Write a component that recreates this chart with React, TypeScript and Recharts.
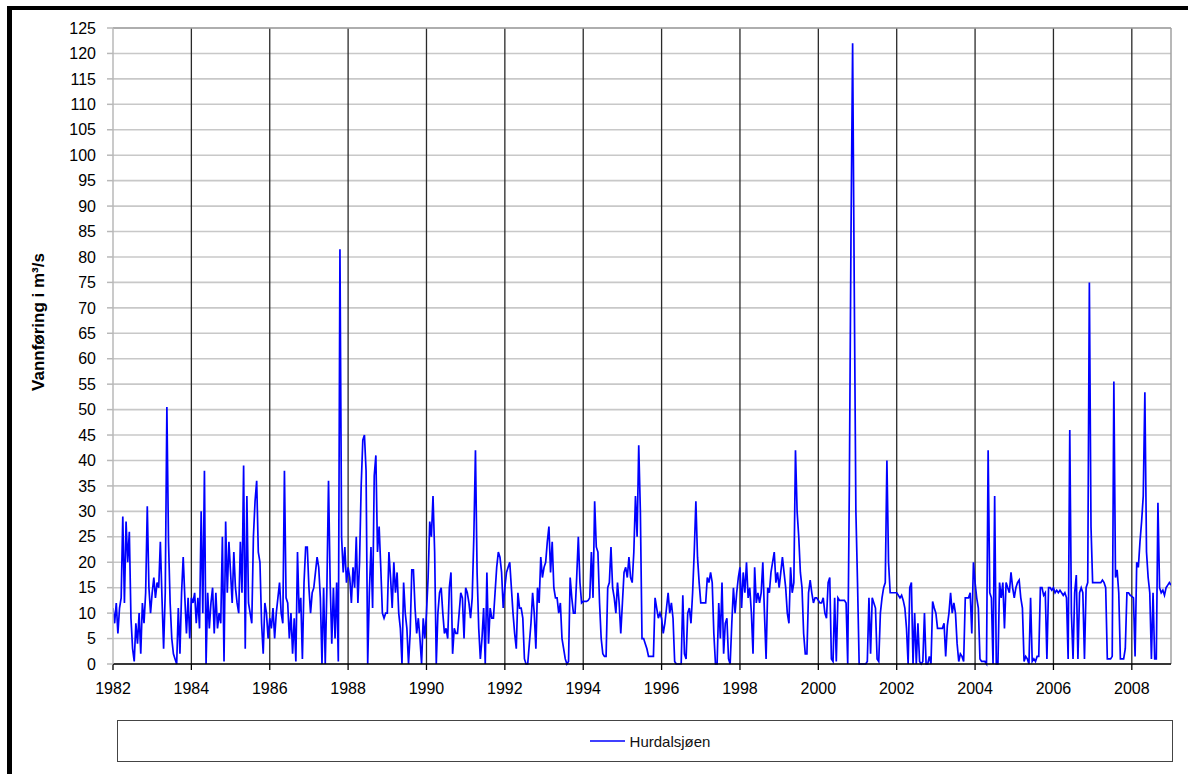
import { CartesianGrid, Legend, Line, LineChart, ReferenceLine, XAxis, YAxis } from "recharts";

// half-monthly flow readings (m³/s), 24 per year
const v1982 = [11, 8, 12, 6, 11, 13, 29, 12, 28, 20, 26, 9, 3, 0.5, 8, 4, 10, 2, 12, 8, 14, 31, 15, 10];
const v1983 = [14, 17, 13, 16, 15, 24, 13, 3, 14, 50.5, 24, 12, 5, 2, 1, 0, 11, 2, 14, 21, 13, 6, 13, 5];
const v1984 = [13, 12, 14, 8, 13, 7, 30, 10, 38, 0, 14, 7, 12, 15, 6, 14, 7, 10, 8, 25, 0.5, 28, 14, 24];
const v1985 = [18, 12, 22, 15, 12, 10, 24, 14, 39, 3, 33, 12, 10, 8, 25, 32, 36, 22, 20, 8, 2, 12, 10, 5];
const v1986 = [9, 7, 11, 5, 10, 13, 16, 10, 8, 38, 13, 12, 5, 10, 2, 9, 0.5, 22, 10, 13, 1, 16, 23, 23];
const v1987 = [15, 10, 14, 15, 18, 21, 19, 13, 0, 15, 0, 15, 36, 16, 4, 15, 5, 16, 0.5, 81.5, 25, 18, 23, 16];
const v1988 = [19, 17, 12, 19, 15, 25, 12, 20, 35, 44, 45, 38, 0, 14, 23, 11, 37, 41, 22, 27, 19, 10, 9, 10];
const v1989 = [10, 22, 17, 11, 20, 14, 18, 10, 7, 0, 16, 10, 7, 0, 6, 18.5, 18.5, 11, 6, 9, 5, 0, 9, 5];
const v1990 = [10, 17, 28, 25, 33, 22, 0, 10, 14, 15, 10, 6, 7, 5, 15, 18, 2, 7, 6, 6, 10, 14, 13, 5];
const v1991 = [15, 14, 12, 9, 13, 25, 42, 18, 7, 1, 5, 11, 0, 18, 4, 11, 9, 9, 14, 19, 22, 21, 18, 11];
const v1992 = [15, 18, 19, 20, 15, 10, 6, 3, 14, 11, 11, 9, 1, 0, 0, 4, 8, 14, 10, 3, 15, 12, 21, 17];
const v1993 = [19, 20, 24, 27, 18, 24, 15, 13, 13, 10, 12, 5, 3, 1, 0, 0.5, 17, 13, 10, 10, 17, 25, 16, 12];
const v1994 = [12.3, 12.3, 12.3, 12.5, 13, 22, 13, 32, 23, 22, 12, 5, 2, 1.5, 1.5, 15, 16, 23, 15, 13, 10, 16, 12, 6];
const v1995 = [12, 18, 19, 17, 21, 17, 16, 22, 33, 25, 43, 30, 5, 5, 4, 3, 1.5, 1.5, 1.5, 1.5, 13, 11, 9, 10];
const v1996 = [9, 6, 8, 11, 14, 10, 12, 9, 0.5, 0, 0, 0, 0, 13.5, 2, 1, 10, 11, 8, 14, 22, 32, 21, 16];
const v1997 = [12, 12, 12, 12, 17, 16, 18, 16, 6, 0, 0, 12, 5, 16, 2, 8, 9, 1, 0, 8, 15, 10, 14, 17];
const v1998 = [19, 11, 18, 14, 20, 13, 15, 10, 2, 19, 12, 14, 12, 14, 20, 10, 1, 15, 14, 18, 20, 22, 16, 18];
const v1999 = [15, 18, 21, 18, 15, 10, 8, 19, 14, 16, 42, 30, 25, 18, 15, 6, 2, 2, 14, 16.5, 14, 12, 13, 13];
const v2000 = [12.5, 12, 12, 13, 10, 9, 16, 17, 1, 0.5, 13, 0.5, 13, 12.5, 12.5, 12.5, 12.5, 12, 0, 35, 84, 122, 74, 30];
const v2001 = [16, 0, 0, 0, 0, 0, 0.5, 13, 2, 13, 12, 11, 1, 0.5, 10, 13, 15, 16, 40, 20, 14, 14, 14, 14];
const v2002 = [14, 13.5, 13, 13.5, 12.5, 11, 7, 0, 15, 16, 0, 10, 0, 8, 0.5, 0, 0.5, 10, 0, 0, 1.5, 0, 12.3, 11];
const v2003 = [10, 7, 7, 7, 7, 8, 1.5, 7.5, 10, 14, 10, 12, 10, 4, 0.5, 2, 1.5, 0.5, 13, 13, 13, 14, 6, 20];
const v2004 = [16, 13, 11, 1, 0.5, 0.5, 0.5, 0, 42, 14, 13, 0, 33, 0, 0, 16, 13, 16, 7, 16, 15, 14, 18, 15];
const v2005 = [13, 15, 16, 16.5, 13, 11, 0.5, 1.5, 1, 0, 13, 0.5, 1, 0.5, 1.5, 1.5, 15, 15, 13.5, 14, 1, 15, 15, 14.5];
const v2006 = [15, 14, 14.5, 14, 14.5, 14, 13.5, 14, 13, 1, 46, 10, 1, 14, 17.5, 1, 14, 15, 14, 1, 15, 16, 75, 27];
const v2007 = [16, 16, 16, 16, 16, 16, 16.5, 16, 15, 1, 1, 1, 1.5, 55.5, 17, 18.5, 14, 1, 1, 1, 3, 14, 14, 13.5];
const v2008 = [13.3, 13, 1.5, 20, 19, 24, 28, 33, 53.4, 22, 17, 14, 1, 14, 1, 1, 31.7, 15, 14, 14.5, 13.5, 15, 15.5, 16];
const v2009 = [15.5];

const years = [
  1982, 1983, 1984, 1985, 1986, 1987, 1988, 1989, 1990, 1991, 1992, 1993, 1994, 1995,
  1996, 1997, 1998, 1999, 2000, 2001, 2002, 2003, 2004, 2005, 2006, 2007, 2008, 2009,
];
const series = [
  v1982, v1983, v1984, v1985, v1986, v1987, v1988, v1989, v1990, v1991, v1992, v1993, v1994, v1995,
  v1996, v1997, v1998, v1999, v2000, v2001, v2002, v2003, v2004, v2005, v2006, v2007, v2008, v2009,
];

const xTicks = [1982, 1984, 1986, 1988, 1990, 1992, 1994, 1996, 1998, 2000, 2002, 2004, 2006, 2008];
const yTicks = [0, 5, 10, 15, 20, 25, 30, 35, 40, 45, 50, 55, 60, 65, 70, 75, 80, 85, 90, 95, 100, 105, 110, 115, 120, 125];

const data = years.flatMap((yr, j) => series[j].map((q, i) => ({ t: yr + i / 24, q })));

const FONT = "'Liberation Sans', Arial, sans-serif";

function YTitle({ viewBox }: any) {
  const x = viewBox.x - 15;
  const y = viewBox.y + viewBox.height / 2 - 24;
  return (
    <text
      x={x}
      y={y}
      transform={`rotate(-90 ${x} ${y})`}
      textAnchor="middle"
      dominantBaseline="central"
      fontFamily={FONT}
      fontSize={17}
      fontWeight="bold"
      fill="#000"
    >
      Vannføring i m³/s
    </text>
  );
}

function LegendBox() {
  return (
    <div
      style={{
        boxSizing: "border-box",
        width: 1056,
        height: 42,
        border: "1.5px solid #444",
        display: "flex",
        alignItems: "center",
        justifyContent: "center",
        paddingLeft: 10,
        fontFamily: FONT,
        fontSize: 15,
        color: "#111",
      }}
    >
      <svg width={35} height={4} style={{ marginRight: 5 }}>
        <line x1={0} y1={2} x2={35} y2={2} stroke="#0000ff" strokeWidth={1.5} />
      </svg>
      <span>Hurdalsjøen</span>
    </div>
  );
}

export default function App() {
  return (
    <div style={{ position: "absolute", left: 0, top: 0, width: 1188, height: 774, overflow: "hidden", background: "#fff" }}>
      <div
        style={{
          position: "absolute",
          left: 7,
          top: 6,
          width: 1300,
          height: 900,
          borderTop: "4px solid #000",
          borderLeft: "5px solid #000",
        }}
      />
      <div style={{ position: "absolute", left: 0, top: 0 }}>
        <LineChart
          width={1188}
          height={774}
          data={data}
          margin={{ top: 28, right: 17, bottom: 80, left: 53 }}
          style={{ fontFamily: FONT }}
        >
          <CartesianGrid horizontal vertical={false} stroke="#c8c8c8" strokeWidth={1.6} />
          {xTicks.slice(1).map((yr) => (
            <ReferenceLine key={yr} x={yr} stroke="#2a2a2a" strokeWidth={1.3} />
          ))}
          <ReferenceLine x={2009} stroke="#a0a0a0" strokeWidth={1.5} />
          <ReferenceLine y={125} stroke="#a0a0a0" strokeWidth={1.5} />
          <XAxis
            type="number"
            dataKey="t"
            domain={[1982, 2009]}
            ticks={xTicks}
            interval={0}
            allowDataOverflow
            tick={{ fill: "#000", fontSize: 16, fontFamily: FONT }}
            tickSize={6}
            tickMargin={13}
            axisLine={{ stroke: "#000", strokeWidth: 1.5 }}
            tickLine={{ stroke: "#000", strokeWidth: 1.3 }}
            height={30}
          />
          <YAxis
            type="number"
            domain={[0, 125]}
            ticks={yTicks}
            interval={0}
            width={60}
            tick={{ fill: "#000", fontSize: 16, fontFamily: FONT }}
            tickSize={6}
            tickMargin={11}
            axisLine={{ stroke: "#b8b8b8", strokeWidth: 1.5 }}
            tickLine={{ stroke: "#b8b8b8", strokeWidth: 1.5 }}
            label={<YTitle />}
          />
          <Legend
            layout="horizontal"
            verticalAlign="middle"
            align="center"
            wrapperStyle={{ left: 117, top: 720, width: 1056, height: 42 }}
            content={() => <LegendBox />}
          />
          <Line
            type="linear"
            dataKey="q"
            name="Hurdalsjøen"
            stroke="#0000ff"
            strokeWidth={1.7}
            dot={false}
            activeDot={false}
            isAnimationActive={false}
          />
        </LineChart>
      </div>
    </div>
  );
}
